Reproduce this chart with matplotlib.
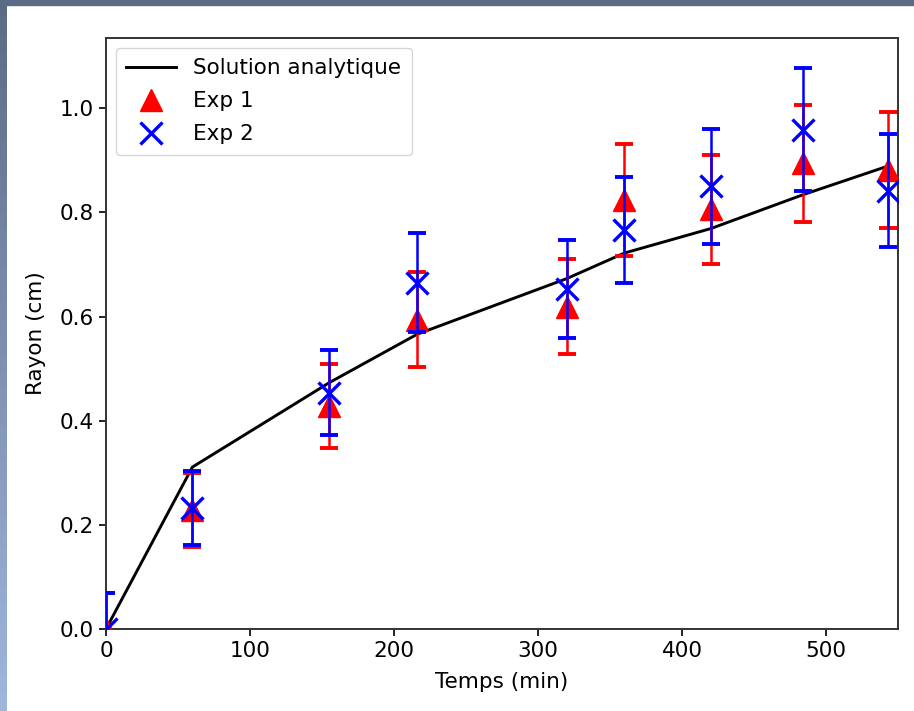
import matplotlib
matplotlib.use("Agg")
import matplotlib.pyplot as plt
import numpy as np
from matplotlib.patches import Rectangle

# Data
t_model = [0, 60, 155, 216, 320, 360, 420, 484, 543]
r_model = [0.0, 0.311, 0.473, 0.566, 0.673, 0.722, 0.769, 0.834, 0.889]

t_exp = [0, 60, 155, 216, 320, 360, 420, 484, 543]
r_exp1 = [0.0, 0.229, 0.428, 0.594, 0.619, 0.824, 0.806, 0.894, 0.881]
err_exp1 = [0.069, 0.071, 0.081, 0.091, 0.091, 0.107, 0.105, 0.113, 0.111]
r_exp2 = [0.0, 0.232, 0.454, 0.665, 0.653, 0.766, 0.850, 0.959, 0.842]
err_exp2 = [0.069, 0.071, 0.082, 0.095, 0.094, 0.102, 0.110, 0.118, 0.108]

xticks = [0, 100, 200, 300, 400, 500]
yticks = [0.0, 0.2, 0.4, 0.6, 0.8, 1.0]

fig = plt.figure(figsize=(9.14, 7.11), dpi=100)
W, H = 914, 711

# slide background border
fig.patches.append(Rectangle((0, 1 - 5 / H), 1, 5 / H, transform=fig.transFigure,
                             color="#5b6b86", zorder=-10))
n = 40
cols_top = np.array([0x5b, 0x6b, 0x86]) / 255
cols_bot = np.array([0xa0, 0xb5, 0xdc]) / 255
for i in range(n):
    f = i / (n - 1)
    c = cols_top * (1 - f) + cols_bot * f
    fig.patches.append(Rectangle((0, 1 - (i + 1) / n), 6.5 / W, 1 / n + 0.001,
                                 transform=fig.transFigure, color=c, zorder=-10,
                                 linewidth=0))

ax = fig.add_axes([106 / W, 1 - 629 / H, (898 - 106) / W, (629 - 38) / H])

ax.plot(t_model, r_model, color="black", lw=2.1, label="Solution analytique", zorder=2)

ax.errorbar(t_exp, r_exp1, yerr=err_exp1, fmt="none", ecolor="red",
            elinewidth=1.8, capsize=6.5, capthick=2.8, zorder=3)
ax.plot(t_exp, r_exp1, linestyle="none", marker="^", color="red", ms=16.5,
        label="Exp 1", zorder=3)
ax.errorbar(t_exp, r_exp2, yerr=err_exp2, fmt="none", ecolor="blue",
            elinewidth=1.8, capsize=6.5, capthick=2.8, zorder=4)
ax.plot(t_exp, r_exp2, linestyle="none", marker="x", color="blue", ms=16.5,
        mew=2.4, label="Exp 2", zorder=4)

fs = 15.5
ax.set_xlim(0, 550)
ax.set_ylim(0, 1.135)
ax.set_xticks(xticks)
ax.set_yticks(yticks)
ax.set_yticklabels([f"{v:.1f}" for v in yticks])
ax.tick_params(labelsize=fs, width=1.2, length=5)
ax.set_xlabel("Temps (min)", fontsize=fs, labelpad=8)
ax.set_ylabel("Rayon (cm)", fontsize=fs, labelpad=10)
for s in ax.spines.values():
    s.set_linewidth(1.4)
    s.set_color("#333333")

ax.legend(loc="upper left", fontsize=fs, handlelength=2.3, labelspacing=0.6,
          borderaxespad=0.45, borderpad=0.5)

fig.savefig("out.png", dpi=100)
